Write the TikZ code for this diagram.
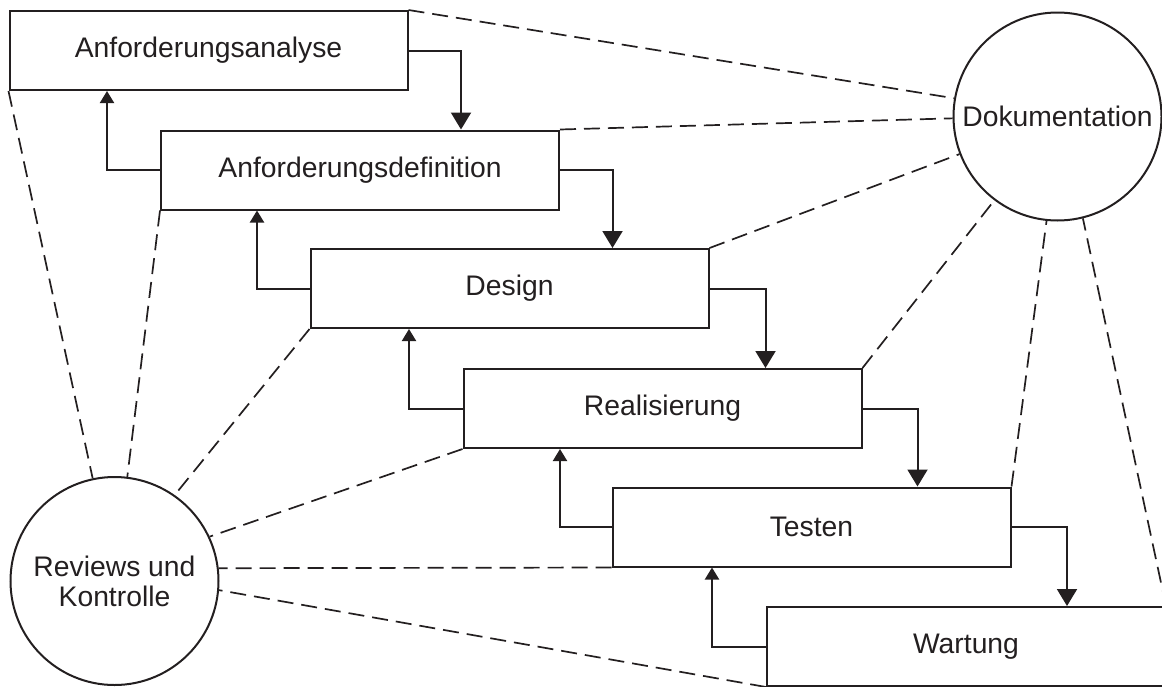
\documentclass[tikz,border=0pt]{standalone}
\usepackage{fontspec}
\setmainfont{Liberation Sans}
\usetikzlibrary{arrows.meta}
\definecolor{ink}{HTML}{231F20}
\begin{document}
\begin{tikzpicture}[x=1pt,y=-1pt,
  phase/.style={draw=ink, line width=2pt, minimum width=398pt, minimum height=79pt, inner sep=0pt,
    font=\fontsize{28.3}{31}\selectfont, text=ink, fill=white},
  aux/.style={circle, draw=ink, line width=2pt, minimum size=208pt, inner sep=0pt, align=center,
    font=\fontsize{28.3}{30}\selectfont, text=ink},
  fwd/.style={draw=ink, line width=2pt, -{Triangle[width=20pt,length=17pt]}},
  back/.style={draw=ink, line width=2pt, -{Triangle[width=14pt,length=12pt]}},
  link/.style={draw=ink, line width=1.7pt, dash pattern=on 16pt off 8pt}
]
\useasboundingbox (0,0) rectangle (1162,686);
\clip (0,0) rectangle (1162,686);

% phases
\node[phase] (A1) at (208.5,50.5) {Anforderungsanalyse};
\node[phase] (A2) at (360,170) {Anforderungsdefinition};
\node[phase] (DS) at (509.5,288.5) {Design};
\node[phase] (RE) at (662.5,408.5) {Realisierung};
\node[phase] (TE) at (811.5,527) {Testen};
\node[phase] (WA) at (966,646.5) {Wartung};

% side circles
\node[aux] (DOK) at (1057.5,116.5) {Dokumentation};
\node[aux] (REV) at (114.5,581) {Reviews und\\Kontrolle};

% forward arrows
\draw[fwd] (A1.east) -| ([xshift=101pt]A2.north);
\draw[fwd] (A2.east) -| ([xshift=103pt]DS.north);
\draw[fwd] (DS.east) -| ([xshift=103pt]RE.north);
\draw[fwd] (RE.east) -| ([xshift=106pt]TE.north);
\draw[fwd] (TE.east) -| ([xshift=101pt]WA.north);

% backward arrows
\draw[back] (A2.west) -| ([xshift=-101.5pt]A1.south);
\draw[back] (DS.west) -| ([xshift=-103pt]A2.south);
\draw[back] (RE.west) -| ([xshift=-100.5pt]DS.south);
\draw[back] (TE.west) -| ([xshift=-102.5pt]RE.south);
\draw[back] (WA.west) -| ([xshift=-99.5pt]TE.south);

% links to Dokumentation
\draw[link] (A1.north east) -- (DOK.170.6);
\draw[link] (A2.north east) -- (DOK.181);
\draw[link] (DS.north east) -- (DOK.201);
\draw[link] (RE.north east) -- (DOK.233);
\draw[link] (TE.north east) -- (DOK.264);
\draw[link] (WA.north east) -- (DOK.284);

% links to Reviews und Kontrolle
\draw[link] (A1.south west) -- (REV.102);
\draw[link] (A2.south west) -- (REV.83.6);
\draw[link] (DS.south west) -- (REV.55.5);
\draw[link] (RE.south west) -- (REV.25.2);
\draw[link] (TE.south west) -- (REV.7.1);
\draw[link] (WA.south west) -- (REV.355.7);
\end{tikzpicture}
\end{document}
